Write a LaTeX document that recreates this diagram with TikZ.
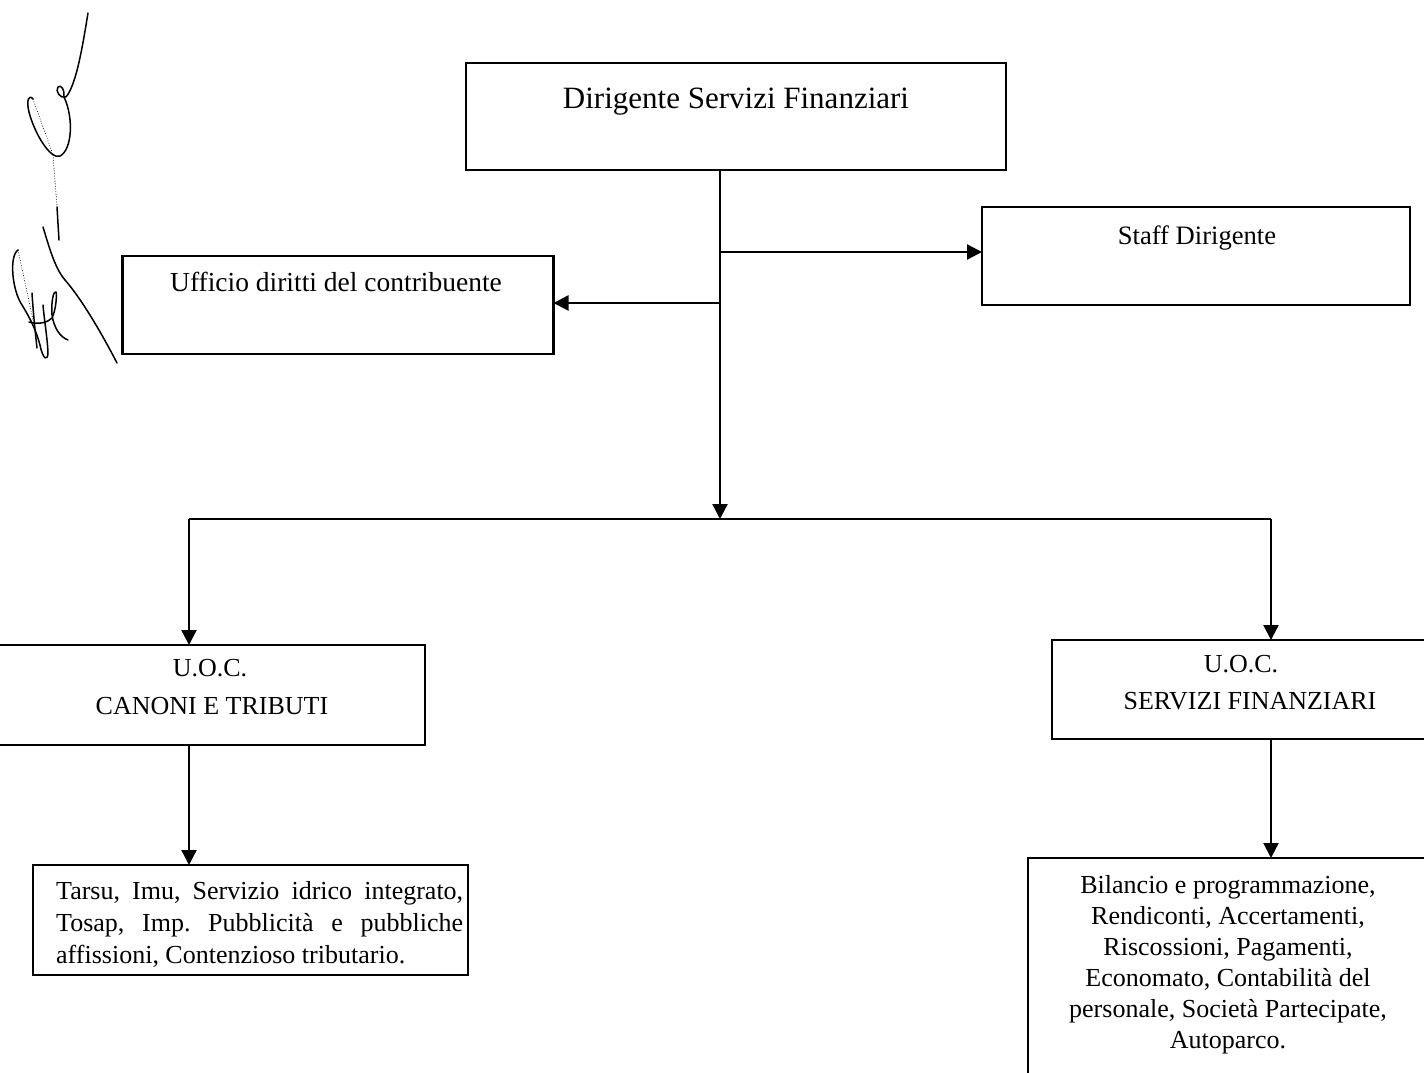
\documentclass[tikz,border=0pt]{standalone}
\usepackage{fontspec}
\setmainfont{Liberation Serif}
\usetikzlibrary{arrows.meta}
\begin{document}
\frenchspacing
\begin{tikzpicture}[x=1pt,y=-1pt,
  box/.style={draw,line width=2.3pt,inner sep=0pt,outer sep=0pt},
  conn/.style={line width=2.3pt},
  arr/.style={conn,-{Triangle[length=15pt,width=15pt]}},
  txt/.style={inner sep=0pt,anchor=base,font=\fontsize{26}{31}\selectfont},
  sig/.style={line width=1.5pt,line cap=round,line join=round}]
\useasboundingbox (0,0) rectangle (1424,1073);
\fill[white] (0,0) rectangle (1424,1073);

% boxes
\node[box,minimum width=540pt,minimum height=107pt] (dir) at (736,116.5) {};
\node[box,minimum width=428pt,minimum height=98pt] (staff) at (1196,256) {};
\node[box,minimum width=431pt,minimum height=98pt] (uff) at (338,305) {};
\node[box,minimum width=430pt,minimum height=100pt] (can) at (210,695) {};
\node[box,minimum width=435pt,minimum height=110pt] (tar) at (250.5,920) {};
\node[box,minimum width=390pt,minimum height=99pt] (sf) at (1247,689.5) {};
\node[box,minimum width=408pt,minimum height=240pt] (bil) at (1232,978) {};

% texts
\node[txt,font=\fontsize{31}{37}\selectfont] (dirT) at (736,108) {Dirigente Servizi Finanziari};
\node[txt,font=\fontsize{26.6}{31}\selectfont] (staffT) at (1197,244) {Staff Dirigente};
\node[txt,font=\fontsize{27.5}{33}\selectfont] (uffT) at (336,291) {Ufficio diritti del contribuente};
\node[txt] (can1) at (210,676) {U.O.C.};
\node[txt] (can2) at (212,714) {CANONI E TRIBUTI};
\node[txt] (sf1) at (1241,672) {U.O.C.};
\node[txt] (sf2) at (1250,709) {SERVIZI FINANZIARI};
\node[txt,anchor=base west] (tar1) at (56,899) {\makebox[407pt][s]{Tarsu, Imu, Servizio idrico integrato,}};
\node[txt,anchor=base west] (tar2) at (56,931) {\makebox[407pt][s]{Tosap, Imp. Pubblicità e pubbliche}};
\node[txt,anchor=base west] (tar3) at (56,963) {affissioni, Contenzioso tributario.};
\begin{scope}[every node/.append style={font=\fontsize{26.5}{31}\selectfont}]
\node[txt] (bil1) at (1228,893) {Bilancio e programmazione,};
\node[txt] (bil2) at (1228,924) {Rendiconti, Accertamenti,};
\node[txt] (bil3) at (1228,955) {Riscossioni, Pagamenti,};
\node[txt] (bil4) at (1228,986) {Economato, Contabilità del};
\node[txt] (bil5) at (1228,1017) {personale, Società Partecipate,};
\node[txt] (bil6) at (1228,1048) {Autoparco.};
\end{scope}

% junctions
\coordinate (jS) at (720,252);
\coordinate (jU) at (720,303);
\coordinate (j) at (720,519);
\coordinate (jL) at (189,519);
\coordinate (jR) at (1271,519);

% connectors
\draw[arr] (dir.south -| j) -- (j);
\draw[arr] (jS) -- (jS -| staff.west);
\draw[arr] (jU) -- (jU -| uff.east);
\draw[conn] (jL) -- (jR);
\draw[arr] (jL) -- (jL |- can.north);
\draw[arr] (jR) -- (jR |- sf.north);
\draw[arr] (can.south -| jL) -- (tar.north -| jL);
\draw[arr] (sf.south -| jR) -- (bil.north -| jR);

% signature
\draw[sig] (88,13) .. controls (82,50) and (76,85) .. (66,97)
  .. controls (60,99) and (55,91) .. (58,87) .. controls (61,84) and (65,90) .. (64,97)
  .. controls (74,118) and (72,150) .. (60,156) .. controls (50,160) and (34,132) .. (29,112)
  .. controls (26,100) and (29,94) .. (33,99);
\draw[sig,line width=0.6pt,dotted] (33,99) -- (52,152);
\draw[sig,line width=0.6pt,dotted] (53,155) -- (57,207);
\draw[sig] (57,207) -- (59,240);
\draw[sig] (43,227) .. controls (50,250) and (55,268) .. (65,280) .. controls (80,297) and (100,330) .. (117,363);
\draw[sig] (18,250) .. controls (9,256) and (12,290) .. (22,305) .. controls (30,318) and (36,330) .. (40,345)
  .. controls (43,360) and (48,362) .. (48,352) .. controls (47,335) and (44,318) .. (43,305);
\draw[sig] (32,293) .. controls (33,310) and (35,330) .. (37,348);
\draw[sig] (29,322) .. controls (40,325) and (48,322) .. (52,318) .. controls (56,310) and (57,295) .. (56,292)
  .. controls (54,290) and (51,300) .. (52,315) .. controls (54,328) and (60,337) .. (68,340);
\draw[sig,line width=0.6pt,dotted] (18,250) -- (33,320);
\end{tikzpicture}
\end{document}
